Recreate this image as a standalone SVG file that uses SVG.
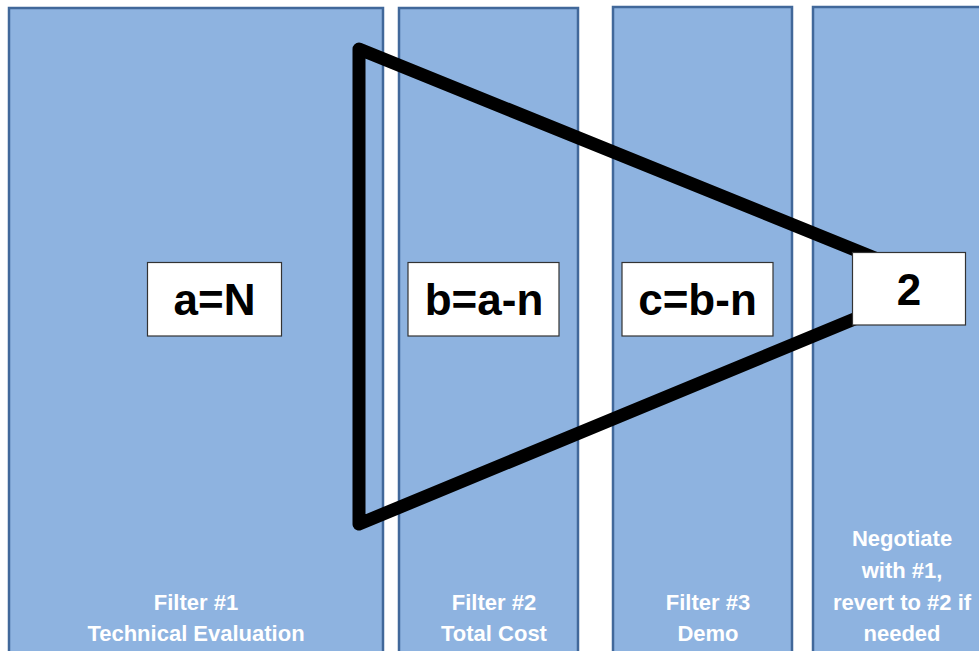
<svg xmlns="http://www.w3.org/2000/svg" width="979" height="651" viewBox="0 0 979 651">
<style>
.col{fill:#8eb3e0;stroke:#41689a;stroke-width:2.5}
.box{fill:#ffffff;stroke:#333333;stroke-width:1.2}
.big{font-family:"Liberation Sans",Arial,sans-serif;font-weight:bold;font-size:44px;fill:#000;text-anchor:middle}
.lbl{font-family:"Liberation Sans",Arial,sans-serif;font-weight:bold;font-size:22px;fill:#ffffff;text-anchor:middle}
</style>
<rect width="979" height="651" fill="#ffffff"/>
<g id="filter1">
<rect class="col" x="9" y="8" width="374" height="660"/>
<text class="lbl" x="196" y="610">Filter #1</text>
<text class="lbl" x="196" y="641">Technical Evaluation</text>
</g>
<g id="filter2">
<rect class="col" x="399" y="8" width="179" height="660"/>
<text class="lbl" x="494" y="610">Filter #2</text>
<text class="lbl" x="494" y="641">Total Cost</text>
</g>
<g id="filter3">
<rect class="col" x="613" y="7" width="179" height="660"/>
<text class="lbl" x="708" y="610">Filter #3</text>
<text class="lbl" x="708" y="641">Demo</text>
</g>
<g id="negotiate">
<rect class="col" x="813" y="7" width="180" height="660"/>
<text class="lbl" x="902" y="546">Negotiate</text>
<text class="lbl" x="902" y="578">with #1,</text>
<text class="lbl" x="902" y="610">revert to #2 if</text>
<text class="lbl" x="902" y="641">needed</text>
</g>
<g id="connectors">
<polygon points="359,49 939,284 359,524" fill="none" stroke="#000" stroke-width="13" stroke-linejoin="round"/>
</g>
<g id="boxA">
<rect class="box" x="147.5" y="262.5" width="134" height="73.5"/>
<text class="big" x="214.5" y="315">a=N</text>
</g>
<g id="boxB">
<rect class="box" x="408" y="262.5" width="151" height="73.5"/>
<text class="big" x="484" y="315">b=a-n</text>
</g>
<g id="boxC">
<rect class="box" x="622" y="262.5" width="151" height="73.5"/>
<text class="big" x="697.5" y="315">c=b-n</text>
</g>
<g id="box2">
<rect class="box" x="852.5" y="252.5" width="113" height="72.5"/>
<text class="big" x="909" y="305">2</text>
</g>
</svg>
